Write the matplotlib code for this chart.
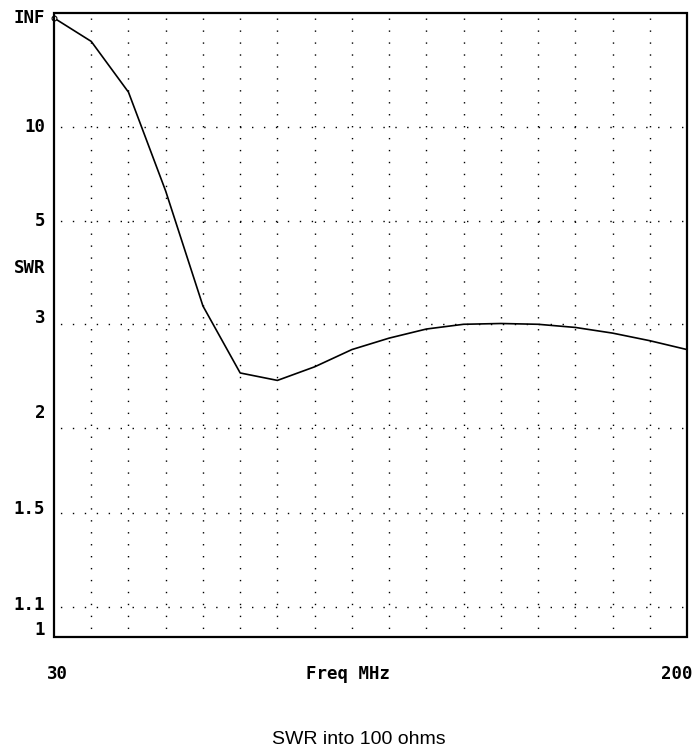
import numpy as np
import matplotlib
matplotlib.use("Agg")
import matplotlib.pyplot as plt
from matplotlib.patches import Rectangle
import matplotlib.transforms as mtransforms

# ---- data ----
freq_mhz = [30, 40, 50, 60, 70, 80, 90, 100, 110, 120, 130, 140, 150, 160, 170, 180, 190, 200]
swr = [np.inf, 50.0, 15.1, 6.0, 3.25, 2.46, 2.39, 2.52, 2.70, 2.83, 2.94, 3.0, 3.01, 3.0, 2.96, 2.89, 2.80, 2.70]

swr_grid = [10, 5, 3, 2, 1.5, 1.1]
swr_tick_values = [np.inf, 10, 5, 3, 2, 1.5, 1.1, 1]
swr_tick_labels = ["INF", "10", "5", "3", "2", "1.5", "1.1", "1"]
freq_grid = [40, 50, 60, 70, 80, 90, 100, 110, 120, 130, 140, 150, 160, 170, 180, 190]
x_label_min, x_label_max = "30", "200"
xlabel = "Freq MHz"
ylabel = "SWR"
title = "SWR into 100 ohms"

# ---- reflection-coefficient style SWR scale ----
RHO_K = np.array([0.0, 0.0476, 0.2, 0.3333, 0.5, 0.6667, 0.8182, 1.0])
F_K = np.array([0.0, 0.048, 0.1998, 0.3372, 0.5052, 0.6725, 0.8247, 1.0])


def fwd(s):
    s = np.asarray(s, dtype=float)
    with np.errstate(all="ignore"):
        rho = 1.0 - 2.0 / (s + 1.0)
    rho = np.clip(np.nan_to_num(rho, nan=1.0), 0.0, 1.0)
    return np.interp(rho, RHO_K, F_K)


def inv(f):
    f = np.asarray(f, dtype=float)
    rho = np.interp(f, F_K, RHO_K)
    with np.errstate(all="ignore"):
        return (1.0 + rho) / (1.0 - rho)


W, H = 699, 751
fig = plt.figure(figsize=(W / 100, H / 100), dpi=100)
left, right, bottom, top = 54, 687, 637, 18
ax = fig.add_axes([left / W, (H - bottom) / H, (right - left) / W, (bottom - top) / H])
ax.set_yscale("function", functions=(fwd, inv))
ax.set_xlim(30, 200)
ax.set_ylim(1, 1e15)

for s in ax.spines.values():
    s.set_visible(False)
ax.set_xticks([])
ax.set_yticks([])

# frame (extends a few px above INF)
ext = 5 / (bottom - top)
ax.add_patch(Rectangle((0, 0), 1, 1 + ext, transform=ax.transAxes, fill=False,
                       lw=1.6, edgecolor="black", clip_on=False, zorder=5))

# dotted grid (dots about 12 px apart)
glw = 1.0
for s in swr_grid:
    ax.axhline(s, color="black", lw=glw, linestyle=(4, (1, 7.6)), zorder=1)
for x in freq_grid:
    ax.vlines(x, 1e15, 1, color="black", lw=glw, linestyles=[(0, (1, 7.6))], zorder=1)

# curve
ax.plot(freq_mhz, swr, color="black", lw=1.2, zorder=3, clip_on=False)
ax.plot(freq_mhz[0], 1e15, marker="o", ms=3.5, mfc="white", mec="black", mew=0.8,
        zorder=4, clip_on=False)

# y labels
mono = dict(family="DejaVu Sans Mono", weight="bold", size=12.5)
blend = mtransforms.blended_transform_factory(ax.transAxes, ax.transData)
label_dy = {"INF": 0, "10": 0, "5": 0, "3": 6, "2": 15, "1.5": 4, "1.1": 2, "1": 7}
for v, lab in zip(swr_tick_values, swr_tick_labels):
    yv = 1e15 if np.isinf(v) else v
    ax.annotate(lab, xy=(0, yv), xycoords=blend, xytext=(-9, label_dy[lab]),
                textcoords="offset pixels", ha="right", va="center", **mono)
ax.annotate(ylabel, xy=(0, fwd(1) + (637 - 268) / 619), xycoords="axes fraction",
            xytext=(-9, 0), textcoords="offset pixels", ha="right", va="center", **mono)

# x labels
ax.annotate(x_label_min, xy=(0, 0), xycoords="axes fraction", xytext=(3, -37),
            textcoords="offset pixels", ha="center", va="center", **mono)
ax.annotate(x_label_max, xy=(1, 0), xycoords="axes fraction", xytext=(-10, -37),
            textcoords="offset pixels", ha="center", va="center", **mono)
ax.annotate(xlabel, xy=(0.5, 0), xycoords="axes fraction", xytext=(-23, -37),
            textcoords="offset pixels", ha="center", va="center", **mono)

fig.text(359 / W, 1 - 740 / H, title, ha="center", va="center",
         family="Liberation Sans", size=14)

fig.savefig("out.png", dpi=100)
